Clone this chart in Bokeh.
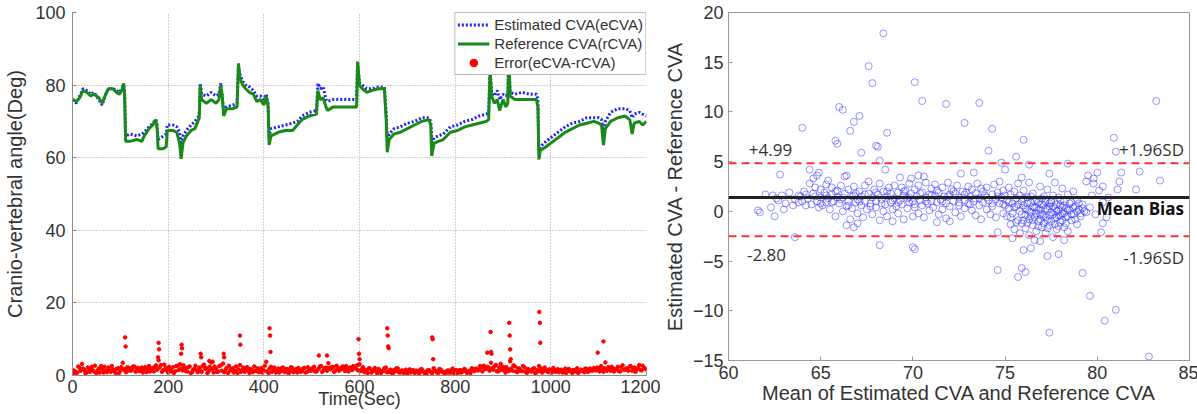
from bokeh.plotting import figure
from bokeh.layouts import row
from bokeh.models import Range1d, FixedTicker, Label, Legend, Span
from bokeh.embed import file_html
from bokeh.resources import INLINE

FONT = "Liberation Sans"

# ---------------- Left panel data ----------------
time_s = [0, 8, 15, 22, 30, 38, 45, 55, 62, 68, 75, 85, 92, 98, 103, 107, 109, 111, 120, 135,
          145, 150, 160, 168, 174, 177, 179, 190, 196, 198, 210, 218, 224, 227, 231, 238, 248, 256, 262, 265,
          267, 270, 280, 290, 300, 306, 310, 313, 316, 322, 335, 344, 347, 350, 356, 362, 370, 378, 385, 393,
          400, 405, 409, 411, 415, 430, 445, 460, 470, 480, 495, 510, 513, 518, 524, 530, 533, 545, 570, 594,
          596, 600, 606, 615, 625, 640, 652, 656, 658, 662, 672, 685, 700, 715, 730, 745, 749, 751, 756, 765,
          775, 790, 805, 820, 835, 850, 865, 870, 873, 876, 882, 888, 893, 900, 906, 910, 912, 915, 925, 940,
          955, 970, 973, 975, 978, 990, 1000, 1015, 1030, 1045, 1060, 1075, 1090, 1100, 1106, 1110, 1114, 1125, 1140, 1155,
          1165, 1170, 1174, 1185, 1192, 1200]
ref_cva = [76, 75.5, 76.5, 78.5, 78, 77, 77.5, 76.5, 75, 77, 79, 79, 78, 77.5, 78.5, 80.5, 77, 64.5, 64.5, 65,
           64.5, 66, 68, 69, 70.5, 68, 62.5, 62.5, 63, 67.5, 67.5, 67, 64, 59.7, 64, 66, 67.5, 68, 70, 71,
           80, 76, 75, 76, 75, 76, 80, 77, 71.5, 73.5, 73.5, 74, 86, 82, 80, 79, 78, 77.5, 75.5, 76,
           74.5, 77, 74, 63.5, 66, 67, 67.5, 67.5, 69, 70.5, 71.5, 72, 78.5, 76, 76.5, 74, 73, 74, 74, 74,
           86.5, 80, 79, 78, 78.5, 79, 79, 70, 61.5, 65, 66.5, 67, 68, 69, 70, 70.5, 69, 60.5, 64, 64.5,
           65, 67, 67.5, 68.5, 69, 69.5, 70, 70.5, 84, 77, 75, 76, 73, 76, 74, 75, 88, 77, 76, 76,
           76, 76, 74, 59.5, 62, 63, 64, 65.5, 67, 68, 69, 69.5, 70, 69.5, 69, 63.5, 68, 70, 71, 71.5,
           70.5, 66.5, 69.5, 70, 69, 70]
est_cva = [76, 75, 77, 79, 78.5, 77.5, 78, 76, 74.5, 77, 79, 79, 78.5, 78, 79, 80, 78, 66, 66.5, 66,
           66.5, 67, 68.5, 69.5, 70.5, 69, 65, 66, 66.5, 69, 69, 68.5, 67, 63, 66, 67.5, 69, 70, 71, 72,
           80.5, 77.5, 77, 78, 77, 77.5, 80.5, 77, 73, 74, 74.5, 75, 85, 83, 81, 80, 79.5, 78.5, 77, 77,
           76, 77.5, 75, 66, 68, 68.5, 69, 69.5, 70, 71.5, 72.5, 73, 80.5, 79, 79.5, 76, 75.5, 76, 76, 76,
           86, 80.5, 80, 79, 79, 79.5, 79.5, 72, 64.5, 66.5, 68, 68.5, 69.5, 70, 71, 71, 70, 64, 65.5, 66,
           66.5, 68.5, 69, 70, 70.5, 71.5, 72, 72.5, 85, 78, 77, 78.5, 76, 77.5, 77, 77.5, 86, 78, 77.5, 78,
           77.5, 77.5, 76, 62, 63, 64.5, 65.5, 67, 68.5, 69.5, 70, 71, 71, 71, 70.5, 67, 70, 72.5, 73.5, 73.5,
           73, 71, 72, 72.5, 72, 71.5]

err_time = list(range(0, 1201, 5))
err_val = [0.5, 1.2, 0.8, 2.1, 3.2, 1.5, 0.9, 1.8, 2.4, 1.1, 0.6, 1.9,
           2.6, 0.8, 1.4, 2.2, 1.0, 1.7, 0.7, 2.0, 1.3, 3.5, 1.8, 2.3,
           2.0, 1.6, 2.4, 1.9, 1.2, 2.2, 1.5, 0.9, 2.6, 1.7, 1.1, 2.8,
           4.2, 2.9, 1.5, 2.1, 0.8, 1.6, 2.3, 1.2, 2.7, 3.1, 1.4, 2.0,
           1.1, 2.5, 0.9, 1.8, 1.4, 2.2, 1.0, 3.0, 2.1, 1.3, 3.6, 0.8,
           1.9, 1.1, 2.8, 3.3, 1.6, 0.7, 1.4, 2.0, 1.2, 0.6, 2.9, 1.5,
           1.0, 2.3, 0.7, 1.6, 2.5, 1.2, 0.9, 2.1, 1.4, 3.8, 0.6, 2.4,
           1.5, 0.8, 1.9, 1.3, 2.2, 0.9, 1.7, 1.1, 2.0, 1.4, 0.8, 1.6,
           1.2, 2.1, 1.0, 1.8, 1.4, 2.4, 1.1, 1.9, 2.6, 1.5, 2.2, 3.4,
           1.7, 2.3, 1.4, 2.0, 1.6, 2.5, 1.2, 1.9, 2.2, 1.5, 2.1, 2.8,
           3.1, 1.8, 0.9, 1.4, 2.0, 0.8, 1.5, 1.1, 1.8, 0.7, 1.3, 2.2,
           0.9, 1.6, 0.6, 1.2, 1.9, 0.8, 1.4, 1.0, 0.5, 1.7, 1.1, 0.7,
           1.3, 0.6, 1.8, 1.0, 0.4, 1.5, 0.9, 2.0, 1.2, 0.7, 1.6, 1.0,
           0.5, 1.4, 0.8, 1.9, 1.1, 0.6, 1.5, 1.0, 1.8, 0.7, 1.3, 2.0,
           1.2, 1.9, 1.5, 2.3, 2.7, 1.8, 2.2, 3.5, 1.6, 2.9, 1.1, 3.2,
           2.4, 0.8, 1.7, 3.9, 1.3, 2.5, 0.9, 1.8, 1.2, 2.2, 0.7, 1.5,
           1.1, 2.0, 0.8, 2.6, 1.9, 1.3, 1.6, 0.9, 1.4, 2.1, 1.0, 1.7,
           1.3, 0.8, 1.9, 1.2, 1.6, 0.7, 1.4, 2.0, 1.1, 1.5, 0.9, 1.8,
           1.2, 1.6, 2.1, 1.4, 1.8, 2.6, 1.0, 1.7, 2.3, 1.3, 2.0, 1.5,
           2.4, 1.1, 2.8, 1.6, 1.9, 2.5, 1.3, 2.2, 1.7, 2.9, 1.4, 2.1,
           1.6]
err_time2 = list(range(2, 1200, 5))
err_val2 = [1.4, 0.7, 2.5, 1.3, 1.9, 0.6, 2.2, 1.0, 1.5, 2.7, 1.3, 0.8,
            1.7, 2.4, 0.9, 1.5, 2.6, 1.2, 1.8, 0.6, 2.3, 1.6, 0.9, 1.4,
            1.3, 2.5, 1.0, 2.1, 1.6, 0.8, 2.3, 1.8, 1.1, 2.0, 2.4, 1.6,
            2.2, 1.0, 3.0, 1.4, 2.4, 1.1, 0.7, 2.6, 1.5, 1.9, 2.8, 1.2,
            2.3, 0.7, 1.6, 2.7, 0.9, 1.5, 2.6, 1.8, 0.6, 2.4, 1.7, 2.5,
            1.0, 2.6, 1.3, 0.9, 2.1, 2.7, 1.8, 0.8, 2.5, 1.7, 1.0, 2.2,
            2.0, 1.4, 1.8, 0.9, 1.3, 2.0, 1.6, 0.8, 2.7, 1.1, 1.9, 1.0,
            2.2, 1.3, 0.8, 2.0, 1.1, 1.8, 0.6, 2.3, 0.9, 1.7, 2.1, 1.0,
            1.9, 0.8, 2.3, 1.3, 2.0, 1.1, 1.6, 2.5, 1.0, 2.0, 1.3, 2.1,
            2.4, 1.0, 2.7, 1.3, 2.2, 1.8, 2.6, 1.1, 1.7, 2.6, 1.9, 1.4,
            1.2, 2.3, 1.6, 0.6, 1.9, 1.3, 2.1, 0.6, 1.4, 1.2, 2.0, 0.9,
            1.4, 0.7, 1.5, 2.0, 0.9, 1.3, 0.7, 1.6, 1.2, 0.8, 1.5, 1.3,
            0.8, 1.6, 1.1, 0.5, 1.4, 1.2, 0.6, 1.4, 0.8, 1.8, 1.1, 0.6,
            1.2, 0.8, 1.6, 0.6, 1.5, 1.3, 0.8, 1.6, 1.2, 1.1, 0.6, 1.5,
            1.8, 1.4, 2.6, 1.1, 1.9, 2.4, 1.3, 2.0, 2.5, 1.2, 2.2, 1.5,
            1.6, 2.3, 1.2, 1.9, 2.8, 1.1, 2.0, 1.3, 2.6, 1.0, 1.8, 1.2,
            1.8, 0.7, 1.5, 1.2, 0.8, 2.2, 1.1, 1.7, 0.8, 1.3, 1.6, 0.9,
            1.6, 1.1, 0.7, 1.8, 1.0, 1.5, 1.1, 0.7, 1.6, 1.2, 1.9, 1.0,
            1.9, 1.3, 1.5, 2.2, 1.1, 1.6, 2.0, 1.3, 1.7, 2.4, 1.1, 1.8,
            1.2, 2.3, 1.6, 1.9, 1.3, 2.6, 1.8, 1.0, 2.1, 1.6, 2.7, 1.9]
spike_time = [110, 111, 180, 181, 179, 228, 229, 227, 268, 269, 286, 293, 316, 317, 350, 351,
              412, 413, 414, 515, 532, 598, 599, 600, 658, 659, 660, 661, 752, 753, 754,
              874, 875, 867, 876, 913, 914, 915, 916, 976, 977, 978, 1098, 1110, 1114]
spike_val = [10.5, 8.0, 9.0, 7.2, 5.0, 8.5, 7.5, 6.0, 6.0, 5.0, 4.0, 3.8, 6.0, 5.0, 11.0, 8.5,
             13.0, 11.0, 6.5, 5.5, 5.5, 10.0, 6.0, 4.5, 13.0, 11.0, 8.0, 7.5, 10.5, 10.0, 4.5,
             12.0, 6.5, 6.3, 6.0, 14.5, 11.0, 7.2, 4.5, 17.5, 14.5, 9.0, 6.3, 9.4, 3.6]

# ---------------- Right panel data (Bland-Altman) ----------------
ba_mean = [61.6, 61.7, 62.0, 62.3, 62.4, 62.7, 62.9, 63.1, 63.3, 63.5,
           63.6, 63.8, 63.9, 64.1, 64.2, 64.3, 64.4, 64.5, 64.6, 64.6, 64.7, 64.8, 64.9, 64.9, 65.0, 65.0,
           65.1, 65.2, 65.3, 65.4, 65.4, 65.5, 65.6, 65.6, 65.7, 65.8, 65.8, 65.9, 66.0, 66.1, 66.1, 66.2,
           66.3, 66.4, 66.5, 66.5, 66.6, 66.7, 66.7, 66.8, 66.9, 66.9, 67.0, 67.0, 66.4, 65.3,
           67.1, 67.2, 67.2, 67.3, 67.4, 67.4, 67.5, 67.6, 67.6, 67.7, 67.8, 67.8, 67.9, 68.0, 68.0, 68.1,
           68.2, 68.2, 68.3, 68.4, 68.4, 68.5, 68.6, 68.6, 68.7, 68.8, 68.8, 68.9, 69.0, 69.0, 67.0, 68.9,
           69.1, 69.2, 69.2, 69.3, 69.4, 69.4, 69.5, 69.5, 69.6, 69.7, 69.7, 69.8, 69.8, 69.9, 70.0, 70.0,
           70.1, 70.1, 70.2, 70.3, 70.3, 70.4, 70.5, 70.5, 70.6, 70.7, 70.7, 70.8, 70.9, 70.9, 71.0, 71.0,
           69.9, 70.6,
           71.1, 71.2, 71.2, 71.3, 71.4, 71.4, 71.5, 71.6, 71.6, 71.7, 71.8, 71.8, 71.9, 72.0, 72.0, 72.1,
           72.2, 72.3, 72.3, 72.4, 72.5, 72.5, 72.6, 72.7, 72.8, 72.8, 72.9, 73.0, 73.0, 72.0,
           73.1, 73.2, 73.2, 73.3, 73.4, 73.4, 73.5, 73.6, 73.6, 73.7, 73.8, 73.8, 73.9, 74.0, 74.0, 74.1,
           74.2, 74.3, 74.3, 74.4, 74.5, 74.5, 74.6, 74.7, 74.7, 74.8, 74.9, 74.9, 75.0, 75.0,
           75.1, 75.1, 75.2, 75.2, 75.3, 75.3, 75.4, 75.4, 75.5, 75.5, 75.6, 75.6, 75.7, 75.7, 75.8, 75.8,
           75.9, 75.9, 76.0, 76.0, 76.1, 76.1, 76.2, 76.2, 76.3, 76.3, 76.4, 76.4, 76.5, 76.5, 76.6, 76.6,
           76.7, 76.7, 76.8, 76.8, 76.9, 76.9, 77.0, 77.0, 75.9, 76.3, 75.4, 76.6,
           77.1, 77.1, 77.2, 77.2, 77.3, 77.3, 77.4, 77.4, 77.5, 77.5, 77.6, 77.6, 77.7, 77.7, 77.8, 77.8,
           77.9, 77.9, 78.0, 78.0, 78.1, 78.1, 78.2, 78.2, 78.3, 78.3, 78.4, 78.4, 78.5, 78.6, 78.6, 78.7,
           78.7, 78.8, 78.9, 78.9, 79.0, 79.1, 79.2, 79.4,
           79.6, 79.7, 79.9, 80.1, 80.3, 80.5, 79.8, 80.6,
           68.4, 67.6, 67.8, 70.1, 70.5, 71.8, 73.6, 83.2, 66.0, 66.2, 67.1, 66.8, 66.6, 68.6, 72.8, 74.3,
           64.0, 65.8, 65.9, 68.1, 68.0, 67.2, 76.0, 74.1, 80.9, 81.0, 75.6, 68.2, 68.5, 62.8, 64.4, 64.8,
           66.3, 69.3, 70.3, 72.6, 73.3, 74.8, 75.0, 76.3, 77.4, 78.4, 79.5, 79.8, 80.0, 80.3, 81.1, 81.2,
           81.3, 82.1, 82.3, 83.4, 79.4, 68.2, 70.0, 70.1, 74.6, 75.7, 75.9, 76.1, 76.0, 76.4, 77.3, 77.9,
           79.2, 79.6, 80.4, 81.0, 77.4, 82.8, 78.2, 74.6, 76.9, 63.6, 62.5, 80.3, 80.2, 66.4, 66.8, 71.3]
ba_diff = [0.1, -0.1, 1.7, 0.4, 1.6, 1.1, 1.6, 0.8, 1.9, 0.6,
           1.2, 0.9, 1.5, 2.0, 0.6, 1.3, 2.8, 0.7, 1.8, 3.3, 2.4, 1.0, 0.4, 3.9, 2.2, 1.4,
           0.6, 1.9, 2.7, 1.3, 3.1, 0.2, 1.7, 2.4, 1.0, -0.5, 2.0, 1.4, 0.8, 2.6, 1.2, 0.0,
           1.8, 0.5, 2.2, 1.0, -0.8, 1.5, 0.3, 2.5, 0.9, 1.8, -0.2, 1.2, 3.6, 0.9,
           2.0, 0.6, 1.5, -0.6, 2.6, 1.0, 0.2, 1.8, 3.0, 0.8, 1.4, -0.3, 2.2, 1.0, 0.4, 1.7,
           2.8, -0.9, 1.2, 0.0, 2.0, 0.7, 1.5, -0.5, 2.4, 0.9, 1.8, 0.2, 1.3, 2.6, -1.2, -1.0,
           0.5, 1.9, -0.2, 1.1, 2.4, 0.7, 1.6, -0.8, 2.1, 0.3, 1.3, 2.8, 0.9, 1.8, -0.5, 1.0,
           2.2, 0.4, 1.5, -0.2, 2.6, 1.1, 0.6, 1.9, -0.6, 1.4, 2.9, 0.8, 1.7, 0.1, 2.3, 1.0,
           3.3, 3.5,
           0.4, 1.6, 2.7, 0.9, -0.3, 1.9, 1.2, 0.2, 2.4, 1.5, -0.7, 0.8, 2.9, 1.7, 0.5, 2.2,
           1.0, -0.1, 1.8, 2.6, 0.6, 1.4, -0.5, 2.0, 1.1, 0.3, 1.9, 2.5, 0.8, -1.0,
           1.5, 0.1, 2.2, 1.0, -0.4, 1.8, 2.8, 0.6, 1.3, -0.8, 2.0, 0.9, 1.6, 0.2, 2.4, 1.1,
           -0.3, 1.7, 0.5, 2.7, 1.2, -0.6, 1.9, 0.8, 3.0, 1.4, -0.2, 2.1, 0.6, 1.6,
           -0.5, 1.1, 2.4, 0.3, -1.3, 1.7, 0.8, -0.2, 2.0, -1.8, 0.5, 1.3, -0.9, 2.8, 0.0, -2.2,
           1.0, -1.2, 0.6, 2.1, -0.4, -1.7, 1.4, 0.2, -0.8, -2.4, 0.9, -0.1, 1.8, -1.4, 0.4, -0.6,
           -2.0, 1.2, -1.0, 0.1, 2.5, -0.3, 0.7, -1.6, 3.4, 2.9, -2.7, -2.9,
           -0.5, 1.5, 0.3, -2.2, -0.9, 2.2, 0.8, -1.4, -0.1, 1.1, -2.6, 0.5, -0.7, 2.9, 0.0, -1.8,
           1.4, -0.4, 0.6, -1.1, 2.3, -0.2, 1.0, -1.6, 0.3, -0.6, 1.7, -2.0, 0.1, -0.9, 0.9, 2.0,
           -0.3, 0.5, -1.3, 1.2, 0.2, -0.5, 0.7, -0.1,
           0.4, 1.6, -0.3, 2.1, 0.9, -0.6, 2.8, 1.4,
           17.9, 14.6, 12.9, 13.0, 11.1, 10.8, 10.9, 11.1, 10.5, 10.2, 9.6, 9.0, 8.1, 7.9, 8.9, 8.3,
           8.4, 7.1, 6.8, 6.5, 6.6, 5.9, 7.2, 6.1, 7.4, 6.0, 5.5, 5.1, 4.2, 3.7, 4.2, 3.6,
           3.5, 3.4, 3.6, 3.8, 3.9, 4.9, 4.2, 4.7, 3.8, 4.8, 3.6, 3.3, 3.9, 2.5, 2.2, 3.0,
           3.9, 2.2, 4.0, 3.1, 3.0, -3.4, -3.6, -3.8, -5.9, -6.6, -5.7, -6.1, -3.9, -3.7, -4.5, -4.3,
           -6.2, -8.5, -11.0, -9.9, -12.2, -14.6, -2.9, -2.1, -3.0, -2.6, -0.5, -1.2, -2.1, -1.4, -1.6, -1.1]
ba_mean_more = [75.2, 75.3, 75.5, 75.6, 75.7, 75.8, 75.9, 76.0, 76.0, 76.1, 76.2, 76.2, 76.3, 76.4, 76.4, 76.5,
                76.5, 76.6, 76.7, 76.7, 76.8, 76.8, 76.9, 76.9, 77.0, 77.0, 77.1, 77.1, 77.2, 77.2, 77.3, 77.3,
                77.4, 77.4, 77.5, 77.5, 77.6, 77.6, 77.7, 77.7, 77.8, 77.8, 77.9, 77.9, 78.0, 78.0, 78.1, 78.1,
                78.2, 78.2, 78.3, 78.4, 78.4, 78.5, 78.6, 78.7, 78.8, 78.9, 79.0, 79.1, 79.2, 79.3,
                65.3, 65.6, 65.9, 66.2, 66.5, 66.8, 67.1, 67.4, 67.7, 68.0, 68.3, 68.6, 68.9, 69.2, 69.5, 69.8,
                70.1, 70.4, 70.7, 71.0, 71.3, 71.6, 71.9, 72.2, 72.5, 72.8, 73.1, 73.4, 73.7, 74.0, 74.3, 74.6,
                74.9, 65.0, 64.7, 64.2, 63.8, 63.0, 62.6, 64.0]
ba_diff_more = [0.9, -0.6, 0.4, -1.1, 0.7, 1.6, -0.3, -0.9, 1.3, 0.3, -1.2, 0.8, 0.0, -0.5, 1.5, 0.5,
                -0.9, 1.0, -0.2, 0.4, -1.5, 0.9, 0.2, -0.8, 1.3, -0.3, 0.6, -1.2, -0.6, 1.0, 0.2, -1.7,
                0.5, -0.4, -1.0, 0.9, -0.3, 1.6, 0.3, -1.3, 0.7, -0.6, 0.1, -1.5, -0.4, 1.1, 0.4, -0.9,
                -0.2, 0.6, -1.2, 0.2, -0.5, 0.8, -0.3, 0.4, -0.8, 0.0, 0.8, -0.2, 0.3, 0.0,
                1.6, 0.9, 2.1, 1.4, 0.6, 1.6, 1.0, 1.7, 0.5, 1.9, 0.8, 2.0, 1.1, 0.9, 2.0, 1.4,
                0.7, 1.8, 1.0, 1.6, 2.1, 1.0, 1.5, 2.0, 0.9, 1.7, 0.7, 1.3, 2.3, 1.4, 0.8, 1.5,
                0.7, 0.8, 1.5, 1.7, 1.6, 0.2, 1.3, 1.0]
mean_bias = 1.4
upper_loa = 4.85
lower_loa = -2.5
x_ticks_l = [0, 200, 400, 600, 800, 1000, 1200]
y_ticks_l = [0, 20, 40, 60, 80, 100]
x_ticks_r = [60, 65, 70, 75, 80, 85]
y_ticks_r = [-15, -10, -5, 0, 5, 10, 15, 20]

# ---------------- Left figure ----------------
p1 = figure(frame_width=574, frame_height=363, min_border_left=72, min_border_right=14,
            min_border_top=12, min_border_bottom=39,
            x_range=Range1d(0, 1200), y_range=Range1d(0, 100),
            output_backend="svg", toolbar_location=None)
p1.outline_line_color = None
p1.background_fill_color = "white"
p1.border_fill_color = "white"

r_est = p1.line(time_s, est_cva, line_color="#1f1fff", line_width=3, line_dash="2 2")
r_ref = p1.line(time_s, ref_cva, line_color="#178a17", line_width=3)
r_err = p1.scatter(err_time, err_val, size=3.5, color="#ff0000")
p1.scatter(err_time2, err_val2, size=3.5, color="#ff0000")
p1.scatter(spike_time, spike_val, size=3.5, color="#ff0000")

for ax in (p1.xaxis[0], p1.yaxis[0]):
    ax.axis_line_color = "#8c8c8c"
    ax.major_tick_in = 4
    ax.major_tick_out = 0
    ax.minor_tick_line_color = None
    ax.major_tick_line_color = "#8c8c8c"
    ax.major_label_text_font = FONT
    ax.major_label_text_font_size = "18px"
    ax.major_label_text_color = "#333333"
    ax.axis_label_text_font = FONT
    ax.axis_label_text_font_size = "20px"
    ax.axis_label_text_font_style = "normal"
    ax.axis_label_text_color = "#333333"
p1.xaxis[0].ticker = FixedTicker(ticks=x_ticks_l)
p1.yaxis[0].ticker = FixedTicker(ticks=y_ticks_l)
p1.xaxis[0].major_label_standoff = 4
p1.xaxis[0].axis_label = "Time(Sec)"
p1.xaxis[0].axis_label_text_font_size = "18px"
p1.xaxis[0].axis_label_standoff = -7
p1.yaxis[0].major_label_standoff = 7
p1.yaxis[0].axis_label = "Cranio-vertebral angle(Deg)"
p1.yaxis[0].axis_label_standoff = 6
p1.grid.grid_line_color = "#a0a0a0"
p1.grid.grid_line_dash = "1 2"
p1.grid.grid_line_width = 1
p1.xgrid.ticker = FixedTicker(ticks=x_ticks_l)
p1.ygrid.ticker = FixedTicker(ticks=y_ticks_l)

legend = Legend(items=[("Estimated CVA(eCVA)", [r_est]),
                       ("Reference CVA(rCVA)", [r_ref]),
                       ("Error(eCVA-rCVA)", [r_err])],
                location="top_right")
legend.margin = 0
legend.padding = 2
legend.spacing = 0
legend.glyph_width = 32
legend.glyph_height = 19
legend.label_height = 19
legend.label_standoff = 5
legend.label_text_font = FONT
legend.label_text_font_size = "15px"
legend.label_text_color = "#333333"
legend.border_line_color = "#7a7a7a"
legend.border_line_width = 1
legend.background_fill_color = "white"
legend.background_fill_alpha = 1
p1.add_layout(legend)

# ---------------- Right figure ----------------
p2 = figure(frame_width=461, frame_height=348, min_border_left=67, min_border_right=9,
            min_border_top=11, min_border_bottom=55,
            x_range=Range1d(60, 85), y_range=Range1d(-15, 20),
            output_backend="svg", toolbar_location=None)
p2.outline_line_color = "#9a9a9a"
p2.outline_line_width = 1
p2.grid.grid_line_color = None
p2.background_fill_color = "white"
p2.border_fill_color = "white"

p2.scatter(ba_mean, ba_diff, marker="circle", size=7, fill_color=None,
           line_color="#2b2bff", line_alpha=0.5, line_width=1)
p2.scatter(ba_mean_more, ba_diff_more, marker="circle", size=7, fill_color=None,
           line_color="#2b2bff", line_alpha=0.5, line_width=1)
p2.add_layout(Span(location=upper_loa, dimension="width", line_color="#ff3030",
                   line_width=2, line_dash="8 5"))
p2.add_layout(Span(location=lower_loa, dimension="width", line_color="#ff3030",
                   line_width=2, line_dash="8 5"))
p2.add_layout(Span(location=mean_bias, dimension="width", line_color="#222222", line_width=3))

for ax in (p2.xaxis[0], p2.yaxis[0]):
    ax.axis_line_color = "#9a9a9a"
    ax.major_tick_in = 4
    ax.major_tick_out = 0
    ax.minor_tick_line_color = None
    ax.major_tick_line_color = "#9a9a9a"
    ax.major_label_text_font = FONT
    ax.major_label_text_font_size = "18px"
    ax.major_label_text_color = "#333333"
    ax.axis_label_text_font = FONT
    ax.axis_label_text_font_size = "20px"
    ax.axis_label_text_font_style = "normal"
    ax.axis_label_text_color = "#333333"
p2.xaxis[0].ticker = FixedTicker(ticks=x_ticks_r)
p2.yaxis[0].ticker = FixedTicker(ticks=y_ticks_r)
p2.xaxis[0].major_label_standoff = 5
p2.yaxis[0].major_label_standoff = 5
p2.xaxis[0].axis_label = "Mean of Estimated CVA and Reference CVA"
p2.xaxis[0].axis_label_standoff = 0
p2.yaxis[0].axis_label = "Estimated CVA - Reference CVA"
p2.yaxis[0].axis_label_standoff = 4

ANN = "Open Sans"
p2.add_layout(Label(x=61.1, y=6.2, text="+4.99", text_align="left", text_baseline="middle",
                    text_font=ANN, text_font_size="17px", text_color="#333333"))
p2.add_layout(Label(x=61.0, y=-4.35, text="-2.80", text_align="left", text_baseline="middle",
                    text_font=ANN, text_font_size="17px", text_color="#333333"))
p2.add_layout(Label(x=84.7, y=6.2, text="+1.96SD", text_align="right", text_baseline="middle",
                    text_font=ANN, text_font_size="17px", text_color="#333333"))
p2.add_layout(Label(x=84.7, y=0.3, text="Mean Bias", text_align="right", text_baseline="middle",
                    text_font=ANN, text_font_size="17px", text_font_style="bold", text_color="#111111"))
p2.add_layout(Label(x=84.7, y=-4.65, text="-1.96SD", text_align="right", text_baseline="middle",
                    text_font=ANN, text_font_size="17px", text_color="#333333"))

layout = row(p1, p2)
open("out.html", "w").write(file_html(layout, INLINE))
